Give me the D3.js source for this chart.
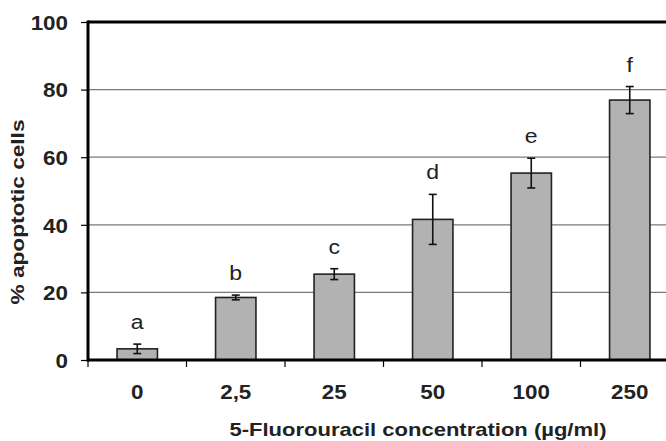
<!DOCTYPE html>
<html>
<head>
<meta charset="utf-8">
<script src="https://cdn.jsdelivr.net/npm/d3@7"></script>
<style>
  body { margin: 0; background: #fff; }
  svg text { font-family: "Liberation Sans", Arial, sans-serif; fill: #222; }
</style>
</head>
<body>
<div id="chart"></div>
<script>
var svgWidth = 666;
var svgHeight = 441;

var margin = { top: 22, right: -13, bottom: 81, left: 88 };
var width = svgWidth - margin.left - margin.right;
var height = svgHeight - margin.top - margin.bottom;

// data
var concentrations = ["0", "2,5", "25", "50", "100", "250"];
var meanApoptosis = [3.3, 18.5, 25.4, 41.6, 55.3, 76.9];
var sdApoptosis = [1.4, 0.7, 1.6, 7.4, 4.4, 4.0];
var groupLetters = ["a", "b", "c", "d", "e", "f"];
var yTicks = [0, 20, 40, 60, 80, 100];

var data = concentrations.map(function (c, i) {
  return { conc: c, mean: meanApoptosis[i], sd: sdApoptosis[i], letter: groupLetters[i] };
});

// the original figure is a bit wider than tall, so glyphs look stretched
function stretch(selection, k) {
  selection.each(function () {
    var len = this.getComputedTextLength();
    d3.select(this)
      .attr("textLength", len * k)
      .attr("lengthAdjust", "spacingAndGlyphs");
  });
}

var svg = d3.select("#chart")
  .append("svg")
  .attr("width", svgWidth)
  .attr("height", svgHeight);

var chartGroup = svg.append("g")
  .attr("transform", `translate(${margin.left}, ${margin.top})`);

var xScale = d3.scaleBand()
  .domain(concentrations)
  .range([0, width])
  .paddingInner(0.59)
  .paddingOuter(0.295);

var yScale = d3.scaleLinear()
  .domain([0, 100])
  .range([height, 0]);

// gridlines
chartGroup.append("g")
  .selectAll("line")
  .data(yTicks.filter(d => d > 0 && d < 100))
  .enter().append("line")
  .attr("x1", 0)
  .attr("x2", width)
  .attr("y1", d => yScale(d))
  .attr("y2", d => yScale(d))
  .attr("stroke", "#7a7a7a")
  .attr("stroke-width", 1.2);

// top frame line
chartGroup.append("line")
  .attr("x1", 0).attr("x2", width)
  .attr("y1", yScale(100)).attr("y2", yScale(100))
  .attr("stroke", "#000")
  .attr("stroke-width", 3);

// bars
chartGroup.selectAll(".bar")
  .data(data)
  .enter().append("rect")
  .attr("class", "bar")
  .attr("x", d => xScale(d.conc))
  .attr("y", d => yScale(d.mean))
  .attr("width", xScale.bandwidth())
  .attr("height", d => yScale(0) - yScale(d.mean))
  .attr("fill", "#b2b2b2")
  .attr("stroke", "#222")
  .attr("stroke-width", 1.6);

// error bars
var errGroup = chartGroup.selectAll(".err")
  .data(data)
  .enter().append("g")
  .attr("class", "err")
  .attr("transform", d => `translate(${xScale(d.conc) + xScale.bandwidth() / 2}, 0)`);

errGroup.append("line")
  .attr("x1", 0).attr("x2", 0)
  .attr("y1", d => yScale(d.mean + d.sd))
  .attr("y2", d => yScale(d.mean - d.sd))
  .attr("stroke", "#111")
  .attr("stroke-width", 1.6);

errGroup.selectAll(".cap")
  .data(d => [d.mean + d.sd, d.mean - d.sd])
  .enter().append("line")
  .attr("x1", -4).attr("x2", 4)
  .attr("y1", v => yScale(v))
  .attr("y2", v => yScale(v))
  .attr("stroke", "#111")
  .attr("stroke-width", 1.6);

// significance letters
chartGroup.selectAll(".letter")
  .data(data)
  .enter().append("text")
  .attr("class", "letter")
  .attr("x", d => xScale(d.conc) + xScale.bandwidth() / 2)
  .attr("y", d => yScale(d.mean + d.sd) - 15)
  .attr("text-anchor", "middle")
  .style("font-size", "20px")
  .text(d => d.letter)
  .call(stretch, 1.15);

// y axis
var leftAxis = d3.axisLeft(yScale)
  .tickValues(yTicks)
  .tickSize(7)
  .tickPadding(13);

var yAxis = chartGroup.append("g").call(leftAxis);
yAxis.select(".domain").remove();
yAxis.selectAll(".tick line").attr("stroke", "#000").attr("stroke-width", 1.2);
yAxis.selectAll("text")
  .style("font-size", "20px")
  .style("font-weight", "bold")
  .attr("dy", "0.36em")
  .call(stretch, 1.12);

chartGroup.append("line")
  .attr("x1", 0).attr("x2", 0)
  .attr("y1", yScale(100) - 1.5).attr("y2", yScale(0) + 1.5)
  .attr("stroke", "#000")
  .attr("stroke-width", 3);

// x axis: labels at band centres, ticks at band boundaries
var bottomAxis = d3.axisBottom(xScale)
  .tickSize(0)
  .tickPadding(25);

var xAxis = chartGroup.append("g")
  .attr("transform", `translate(0, ${height})`)
  .call(bottomAxis);
xAxis.select(".domain").remove();
xAxis.selectAll("text")
  .style("font-size", "20px")
  .style("font-weight", "bold")
  .call(stretch, 1.12);

chartGroup.append("g")
  .selectAll("line")
  .data(d3.range(concentrations.length + 1))
  .enter().append("line")
  .attr("x1", i => i * xScale.step())
  .attr("x2", i => i * xScale.step())
  .attr("y1", height)
  .attr("y2", height + 7)
  .attr("stroke", "#000")
  .attr("stroke-width", 1.2);

chartGroup.append("line")
  .attr("x1", 0).attr("x2", width)
  .attr("y1", height).attr("y2", height)
  .attr("stroke", "#000")
  .attr("stroke-width", 3);

// axis titles
svg.append("text")
  .attr("x", 418)
  .attr("y", 436)
  .attr("text-anchor", "middle")
  .style("font-size", "19px")
  .style("font-weight", "bold")
  .text("5-Fluorouracil concentration (µg/ml)")
  .attr("textLength", 377)
  .attr("lengthAdjust", "spacingAndGlyphs");

svg.append("text")
  .attr("transform", "rotate(-90)")
  .attr("x", -212)
  .attr("y", 24)
  .attr("text-anchor", "middle")
  .style("font-size", "19px")
  .style("font-weight", "bold")
  .text("% apoptotic cells")
  .attr("textLength", 185)
  .attr("lengthAdjust", "spacingAndGlyphs");
</script>
</body>
</html>
